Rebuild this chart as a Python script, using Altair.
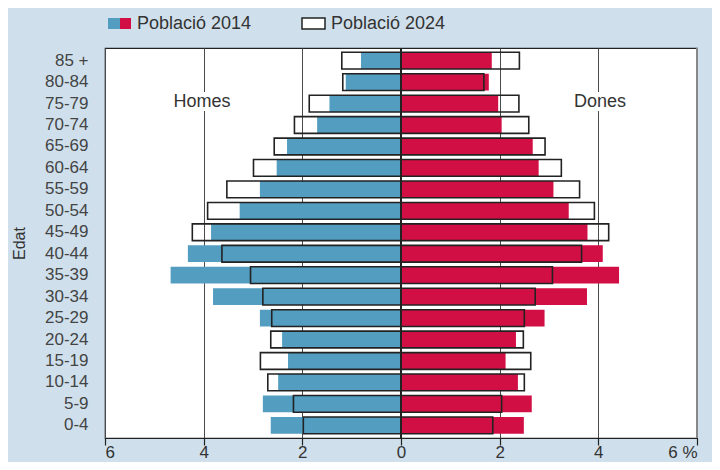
import altair as alt
import pandas as pd

ages = ["85 +", "80-84", "75-79", "70-74", "65-69", "60-64", "55-59", "50-54", "45-49",
        "40-44", "35-39", "30-34", "25-29", "20-24", "15-19", "10-14", "5-9", "0-4"]
men_2014 = [0.81, 1.12, 1.45, 1.70, 2.31, 2.52, 2.86, 3.27, 3.85, 4.32, 4.67, 3.81, 2.86, 2.41, 2.29, 2.49, 2.80, 2.64]
men_2024 = [1.20, 1.18, 1.86, 2.16, 2.57, 2.99, 3.53, 3.92, 4.23, 3.63, 3.05, 2.80, 2.62, 2.64, 2.85, 2.70, 2.18, 1.98]
women_2014 = [1.84, 1.78, 1.97, 2.04, 2.67, 2.79, 3.09, 3.40, 3.78, 4.09, 4.42, 3.77, 2.91, 2.33, 2.12, 2.37, 2.65, 2.49]
women_2024 = [2.40, 1.68, 2.39, 2.59, 2.92, 3.25, 3.62, 3.92, 4.21, 3.66, 3.07, 2.72, 2.50, 2.48, 2.63, 2.50, 2.04, 1.86]

BLUE = "#529dc0"
RED = "#d20f45"
BG = "#cfe0ec"
FONT = "Liberation Sans"
W, H = 592, 390

rows = []
for i, a in enumerate(ages):
    rows.append({"edat": a, "sexe": "Homes", "any": "2014", "v": -men_2014[i]})
    rows.append({"edat": a, "sexe": "Dones", "any": "2014", "v": women_2014[i]})
    rows.append({"edat": a, "sexe": "Homes", "any": "2024", "v": -men_2024[i]})
    rows.append({"edat": a, "sexe": "Dones", "any": "2024", "v": women_2024[i]})
df = pd.DataFrame(rows)

xscale = alt.Scale(domain=[-6, 6], nice=False, zero=False)
yscale = alt.Scale(domain=ages, paddingInner=0.22, paddingOuter=0.2)

xaxis = alt.Axis(values=[-6, -4, -2, 0, 2, 4, 6], title=None,
                 labelExpr="datum.value == 6 ? '6 %' : '' + abs(datum.value)",
                 grid=True, gridColor="#4a4a4a", gridWidth=1,
                 domainColor="#222", domainWidth=1.2, tickColor="#222", tickSize=7, tickWidth=1.2,
                 labelFontSize=17, labelColor="#333", labelFont=FONT, labelPadding=12,
                 labelBaseline="alphabetic")
yaxis = alt.Axis(title="Edat", titleFontSize=16, titleFontWeight="normal", titleColor="#333",
                 titleFont=FONT, titlePadding=17,
                 labelFontSize=17, labelColor="#444", labelFont=FONT, labelPadding=17,
                 ticks=False, domain=False, grid=False)

base = alt.Chart(df)

filled = base.transform_filter(alt.datum["any"] == "2014").mark_bar().encode(
    y=alt.Y("edat:N", scale=yscale, axis=yaxis, sort=ages),
    x=alt.X("v:Q", scale=xscale, axis=xaxis),
    x2=alt.datum(0),
    color=alt.Color("sexe:N", scale=alt.Scale(domain=["Homes", "Dones"], range=[BLUE, RED]), legend=None),
)

outline = base.transform_filter(alt.datum["any"] == "2024").mark_bar(
    fill=None, fillOpacity=0, stroke="#222", strokeWidth=1.6).encode(
    y=alt.Y("edat:N", scale=yscale, sort=ages),
    x=alt.X("v:Q", scale=xscale),
    x2=alt.datum(0),
)

zero = alt.Chart(pd.DataFrame({"z": [0]})).mark_rule(color="#222", strokeWidth=2).encode(
    x=alt.X("z:Q", scale=xscale)
)

one = pd.DataFrame({"a": [0]})

right_edge = alt.Chart(one).mark_rule(color="#888", strokeWidth=2).encode(
    x=alt.value(W), y=alt.value(0), y2=alt.value(H))

text_bg = alt.Chart(pd.DataFrame({"x": [66, 465], "x2": [129, 525]})).mark_rect(color="white").encode(
    x=alt.X("x:Q", scale=None), x2="x2:Q", y=alt.value(44), y2=alt.value(63))

homes = alt.Chart(one).mark_text(text="Homes", font=FONT, fontSize=18, color="#333", baseline="middle").encode(
    x=alt.value(97), y=alt.value(54))
dones = alt.Chart(one).mark_text(text="Dones", font=FONT, fontSize=18, color="#333", baseline="middle").encode(
    x=alt.value(495), y=alt.value(54))

# legend
sw_blue = alt.Chart(one).mark_rect(color=BLUE).encode(
    x=alt.value(3), x2=alt.value(15), y=alt.value(-30), y2=alt.value(-19))
sw_red = alt.Chart(one).mark_rect(color=RED).encode(
    x=alt.value(15), x2=alt.value(26), y=alt.value(-30), y2=alt.value(-19))
sw_white = alt.Chart(one).mark_rect(color="white", stroke="#222", strokeWidth=1.5).encode(
    x=alt.value(197), x2=alt.value(220), y=alt.value(-30), y2=alt.value(-19))
leg1 = alt.Chart(one).mark_text(text="Població 2014", font=FONT, fontSize=18, color="#333",
                                 align="left", baseline="middle").encode(
    x=alt.value(32), y=alt.value(-24))
leg2 = alt.Chart(one).mark_text(text="Població 2024", font=FONT, fontSize=18, color="#333",
                                 align="left", baseline="middle").encode(
    x=alt.value(226), y=alt.value(-24))

chart = alt.layer(
    filled, outline, zero, right_edge, text_bg, homes, dones,
    sw_blue, sw_red, sw_white, leg1, leg2
).properties(
    width=W, height=H,
    autosize=alt.AutoSizeParams(type="none"),
    padding={"left": 97, "top": 40, "right": 15, "bottom": 24},
    background=BG,
).configure_view(
    fill="white", stroke="#222", strokeWidth=1.2
)

chart.save("out.html", embed_options={"renderer": "svg", "actions": False})
